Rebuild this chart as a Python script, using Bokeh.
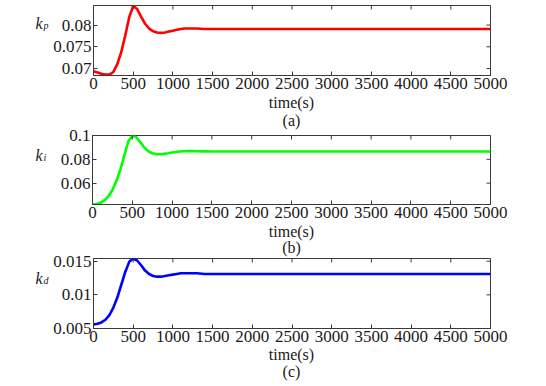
import math
from bokeh.plotting import figure
from bokeh.models import FixedTicker, Label, Range1d
from bokeh.layouts import column, row
from bokeh.embed import file_html
from bokeh.resources import INLINE

# ---------------- data ----------------
time_s = [0, 50, 100, 150, 200, 250, 300, 350, 400, 450, 500, 550, 600, 650, 700,
          750, 800, 850, 900, 950, 1000, 1050, 1100, 1150, 1200, 1250, 1300, 1400,
          1500, 2000, 2500, 3000, 3500, 4000, 4500, 5000]

kp = [0.0694, 0.0691, 0.0688, 0.0686, 0.0686, 0.0692, 0.0710, 0.0738, 0.0776,
      0.0818, 0.0844, 0.0837, 0.0819, 0.0803, 0.0792, 0.0786, 0.0783, 0.0782,
      0.0783, 0.0785, 0.0787, 0.0789, 0.0791, 0.0792, 0.0792, 0.0792, 0.0792,
      0.0791, 0.0791, 0.0791, 0.0791, 0.0791, 0.0791, 0.0791, 0.0791, 0.0791]

ki = [0.0422, 0.0425, 0.0435, 0.0456, 0.0490, 0.0543, 0.0618, 0.0713, 0.0832,
      0.0950, 0.1000, 0.0985, 0.0945, 0.0900, 0.0868, 0.0851, 0.0844, 0.0843,
      0.0846, 0.0851, 0.0857, 0.0862, 0.0866, 0.0868, 0.0869, 0.0869, 0.0868,
      0.0867, 0.0866, 0.0866, 0.0866, 0.0866, 0.0866, 0.0866, 0.0866, 0.0866]

kd = [0.0056, 0.0057, 0.0059, 0.0063, 0.0070, 0.0081, 0.0096, 0.0115, 0.0134,
      0.0149, 0.0154, 0.0151, 0.0144, 0.0136, 0.0131, 0.0128, 0.0127, 0.0127,
      0.0128, 0.0129, 0.0130, 0.0131, 0.0132, 0.0132, 0.0132, 0.0132, 0.0132,
      0.0131, 0.0131, 0.0131, 0.0131, 0.0131, 0.0131, 0.0131, 0.0131, 0.0131]

x_ticks = [0, 500, 1000, 1500, 2000, 2500, 3000, 3500, 4000, 4500, 5000]

y_ticks_a = [0.07, 0.075, 0.08]
y_labels_a = ["0.07", "0.075", "0.08"]
y_ticks_b = [0.06, 0.08, 0.1]
y_labels_b = ["0.06", "0.08", "0.1"]
y_ticks_c = [0.005, 0.01, 0.015]
y_labels_c = ["0.005", "0.01", "0.015"]

x_label = "time(s)"
captions = ["(a)", "(b)", "(c)"]
subscripts = ["p", "i", "d"]
colors = ["#ff0000", "#00ff00", "#0000ff"]

FONT = "Liberation Serif"
TXT = "#1a1a1a"
AX = "#3a3a3a"
LAB_W = 50            # width of the strip holding the k label
TICK_W = 42           # room for y tick labels
FRAME_W = 398
RIGHT = 20
X0, X1 = 0, 5000
OVERLAP = 8


def text_fig(w, h, styles=None):
    f = figure(width=w, height=h, output_backend="svg", toolbar_location=None,
               x_axis_location=None, y_axis_location=None,
               x_range=Range1d(0, 1), y_range=Range1d(0, 1),
               min_border=0, min_border_left=0, min_border_right=0,
               min_border_top=0, min_border_bottom=0,
               styles=styles or {})
    f.outline_line_color = None
    f.xgrid.visible = False
    f.ygrid.visible = False
    f.background_fill_alpha = 0
    f.border_fill_alpha = 0
    return f


def make_panel(y, ymin, ymax, yt, yl, color, sub, caption, top, frame_h, bottom,
               cap_h, cap_y, k_y, sub_y, first):
    h = top + frame_h + bottom
    p = figure(width=TICK_W + FRAME_W + RIGHT, height=h, output_backend="svg",
               toolbar_location=None, x_range=Range1d(X0, X1),
               y_range=Range1d(ymin, ymax),
               min_border_left=TICK_W, min_border_right=RIGHT, min_border_top=top,
               min_border_bottom=bottom)
    p.xgrid.visible = False
    p.ygrid.visible = False
    p.outline_line_color = AX
    p.background_fill_color = "white"
    p.border_fill_alpha = 0

    p.line(time_s, y, line_color=color, line_width=2.6)

    # inward ticks on the top and right edges (half of each dash is clipped away)
    p.scatter(x_ticks, [ymax] * len(x_ticks), marker="dash", size=8,
              angle=math.pi / 2, line_color=AX, line_width=1)
    p.scatter([X1] * len(yt), yt, marker="dash", size=8,
              line_color=AX, line_width=1)

    for ax in p.xaxis:
        ax.ticker = FixedTicker(ticks=x_ticks)
    for ax in p.yaxis:
        ax.ticker = FixedTicker(ticks=yt)
        ax.major_label_overrides = {t: s for t, s in zip(yt, yl)}
    for ax in list(p.xaxis) + list(p.yaxis):
        ax.axis_line_color = AX
        ax.major_tick_line_color = AX
        ax.major_tick_in = 4
        ax.major_tick_out = 0
        ax.minor_tick_line_color = None
        ax.major_label_text_font = FONT
        ax.major_label_text_font_size = "17px"
        ax.major_label_text_color = TXT
        ax.major_label_standoff = 2

    lab = text_fig(LAB_W, h)
    lab.add_layout(Label(x=35, y=k_y, x_units="screen", y_units="screen", text="k",
                         text_align="left", text_baseline="alphabetic",
                         text_font=FONT, text_font_style="italic",
                         text_font_size="16px", text_color=TXT))
    lab.add_layout(Label(x=43, y=sub_y, x_units="screen", y_units="screen", text=sub,
                         text_align="left", text_baseline="alphabetic",
                         text_font=FONT, text_font_style="italic",
                         text_font_size="10px", text_color=TXT))

    cap = text_fig(LAB_W + TICK_W + FRAME_W + RIGHT, cap_h,
                   styles={"margin-top": f"-{OVERLAP}px"})
    cx = LAB_W + TICK_W + FRAME_W / 2
    cap.add_layout(Label(x=cx, y=cap_y[0], x_units="screen", y_units="screen",
                         text=x_label, text_align="center", text_baseline="middle",
                         text_font=FONT, text_font_size="16px", text_color=TXT))
    cap.add_layout(Label(x=cx, y=cap_y[1], x_units="screen", y_units="screen",
                         text=caption, text_align="center", text_baseline="middle",
                         text_font=FONT, text_font_size="16px", text_color=TXT))
    r = row(lab, p, spacing=0,
            styles={} if first else {"margin-top": f"-{OVERLAP}px"})
    return column(r, cap, spacing=0)


pa = make_panel(kp, 0.0684, 0.0845, y_ticks_a, y_labels_a, colors[0], subscripts[0],
                captions[0], 5, 70, 20, 48, (33, 15), 51.7, 50.5, True)
pb = make_panel(ki, 0.0421, 0.1, y_ticks_b, y_labels_b, colors[1], subscripts[1],
                captions[1], 8, 69, 20, 45, (30, 14), 49, 47, False)
pc = make_panel(kd, 0.005, 0.0154, y_ticks_c, y_labels_c, colors[2], subscripts[2],
                captions[2], 5, 70, 20, 45, (31, 14), 50, 48, False)

layout = column(pa, pb, pc, spacing=0)

open("out.html", "w").write(file_html(layout, INLINE))
